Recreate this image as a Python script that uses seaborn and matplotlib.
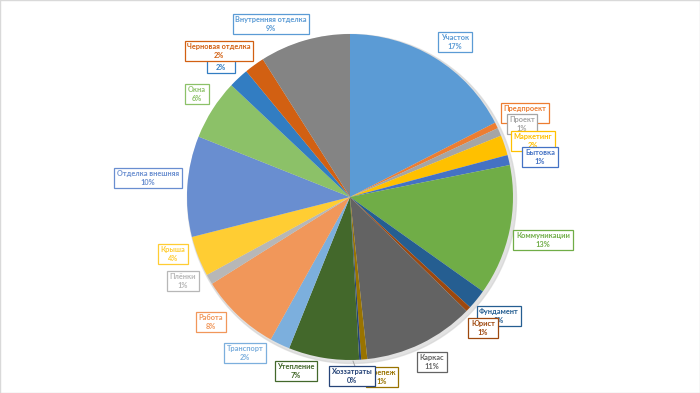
import matplotlib.pyplot as plt
import matplotlib.patches as mpatches
import seaborn as sns

sns.set_theme(style="white")
plt.rcParams['font.family'] = ['Lato', 'DejaVu Sans']

# data, clockwise from 12 o'clock
categories = ['Участок', 'Предпроект', 'Проект', 'Маркетинг', 'Бытовка',
              'Коммуникации', 'Фундамент', 'Юрист', 'Каркас', 'Крепеж',
              'Хоззатраты', 'Утепление', 'Транспорт', 'Работа', 'Плёнки',
              'Крыша', 'Отделка внешняя', 'Окна', 'Двери', 'Черновая отделка',
              'Внутренняя отделка']
shares = [17.5, 0.6, 0.8, 2.0, 1.0, 13.0, 2.0, 0.5, 11.0, 0.6, 0.2,
          7.0, 2.0, 8.0, 1.0, 4.0, 10.0, 6.0, 2.0, 2.0, 9.0]
pct_shown = [17, 1, 1, 2, 1, 13, 2, 1, 11, 1, 0, 7, 2, 8, 1, 4, 10, 6, 2, 2, 9]

colors = ['#5B9BD5', '#ED7D31', '#A5A5A5', '#FFC000', '#4472C4',
          '#70AD47', '#255E91', '#9E480E', '#636363', '#997300',
          '#264478', '#43682B', '#7CAFDD', '#F1975A', '#B7B7B7',
          '#FFCD33', '#698ED0', '#8CC168', '#327DC2', '#D26012',
          '#848484']
text_colors = ['#5B9BD5', '#ED7D31', '#A5A5A5', '#FFC000', '#4472C4',
               '#70AD47', '#255E91', '#9E480E', '#636363', '#997300',
               '#264478', '#43682B', '#7CAFDD', '#F1975A', '#B7B7B7',
               '#FFCD33', '#698ED0', '#8CC168', '#327DC2', '#D26012',
               '#5B9BD5']

# label box centres in pixel coords (x, y from top)
label_pos = [(455, 42), (525, 113), (522, 124), (533, 141), (540, 157),
             (543, 240), (499, 316), (483, 328), (432, 362), (382, 377),
             (352, 376), (296, 371), (245, 353), (211, 322), (183, 281),
             (173, 254), (148, 178), (197, 94), (221, 63), (219, 51),
             (271, 24)]

W, H = 700, 393
fig = plt.figure(figsize=(7, 3.93), dpi=100)
fig.patch.set_facecolor('white')
ax = fig.add_axes([0, 0, 1, 1])

cx, cy, r = 350, H - 197, 163
# soft shadow
ax.add_patch(mpatches.Circle((cx + 2, cy - 2), r + 1.5, color='#d0d0d0',
                             alpha=0.6, zorder=0))
ax.pie(shares, colors=colors, startangle=90, counterclock=False,
       center=(cx, cy), radius=r, frame=True,
       wedgeprops=dict(linewidth=0, zorder=1))

ax.set_xlim(0, W)
ax.set_ylim(0, H)
ax.set_aspect('equal')
ax.set_xticks([])
ax.set_yticks([])
for s in ax.spines.values():
    s.set_color('#d9d9d9')
    s.set_linewidth(1)

# leader line for tiny slice
ax.plot([353, 356], [H - 361, H - 369], color='#a6a6a6', lw=0.7, zorder=2)

for name, pct, tc, (px, py) in zip(categories, pct_shown, text_colors, label_pos):
    ax.text(px, H - py, f"{name}\n{pct}%", ha='center', va='center',
            color=tc, fontsize=5.3, fontweight='bold', linespacing=1.3,
            zorder=5,
            bbox=dict(boxstyle='square,pad=0.35', fc='white', ec=tc, lw=0.9))

fig.savefig('out.png', dpi=100)
